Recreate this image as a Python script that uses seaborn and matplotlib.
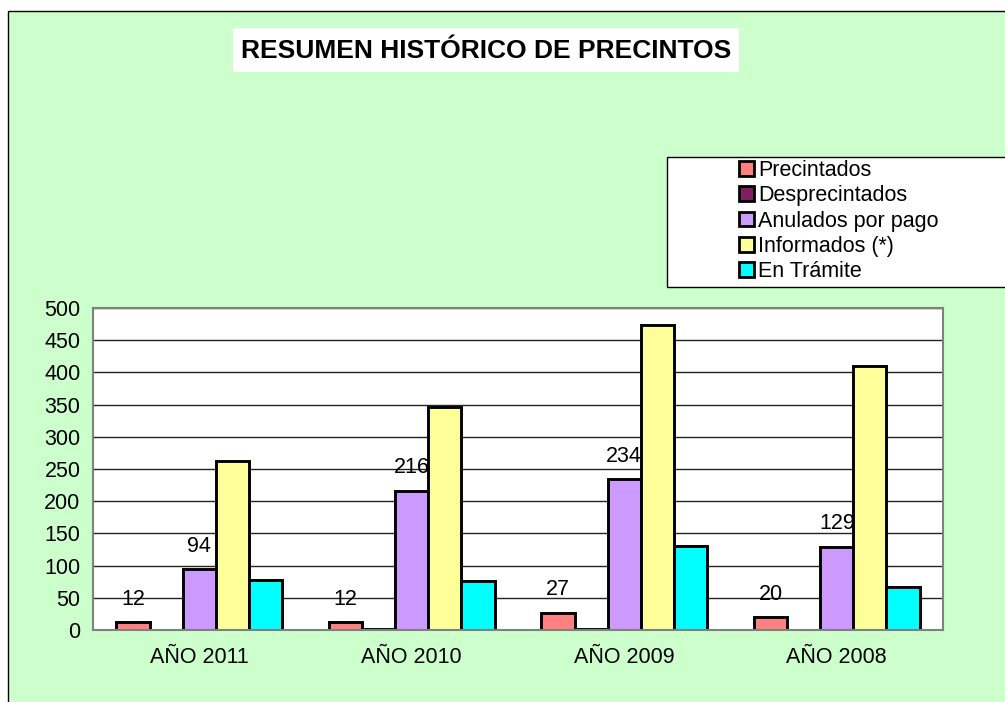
import pandas as pd
import matplotlib.pyplot as plt
from matplotlib.patches import Rectangle, Patch
import seaborn as sb

years = ['AÑO 2011', 'AÑO 2010', 'AÑO 2009', 'AÑO 2008']
series = ['Precintados', 'Desprecintados', 'Anulados por pago', 'Informados (*)', 'En Trámite']
precintados = [12, 12, 27, 20]
desprecintados = [0, 2, 2, 0]
anulados = [94, 216, 234, 129]
informados = [262, 346, 473, 410]
en_tramite = [78, 76, 131, 67]
colors = ['#FF8080', '#7F1F5F', '#CC99FF', '#FFFF99', '#00FFFF']
labeled = ['Precintados', 'Anulados por pago']

values = [precintados, desprecintados, anulados, informados, en_tramite]
df = pd.DataFrame([(y, s, v[i]) for s, v in zip(series, values) for i, y in enumerate(years)],
                  columns=['year', 'serie', 'value'])

sb.set_style('white')
plt.rcParams['font.family'] = ['Liberation Sans', 'DejaVu Sans']
plt.rcParams['text.color'] = 'black'
plt.rcParams['xtick.color'] = 'black'
plt.rcParams['ytick.color'] = 'black'

W, H = 1005, 702
fs = 15.5
fig = plt.figure(figsize=(W / 100, H / 100), dpi=100, facecolor='white')

# green chart frame
fig.patches.append(Rectangle((8 / W, -0.1), 1.2, 0.1 + (H - 11) / H,
                             transform=fig.transFigure, facecolor='#CCFFCC',
                             edgecolor='black', lw=1, zorder=-10))

# title box
fig.patches.append(Rectangle((233 / W, (H - 72) / H), 506 / W, 44 / H,
                             transform=fig.transFigure, facecolor='white',
                             edgecolor='none', zorder=-5))
fig.text(486 / W, (H - 51) / H, 'RESUMEN HISTÓRICO DE PRECINTOS', ha='center', va='center',
         fontsize=19, fontweight='bold')

ax = fig.add_axes([93 / W, (H - 630) / H, 850 / W, 322 / H])
ax.set_facecolor('white')
sb.barplot(data=df, x='year', y='value', hue='serie', hue_order=series, palette=colors,
           width=0.78, gap=0, edgecolor='black', linewidth=2.1, saturation=1,
           legend=False, ax=ax)

for cont, name in zip(ax.containers, series):
    if name not in labeled:
        continue
    for bar in cont:
        h = bar.get_height()
        ax.annotate(f'{h:.0f}', (bar.get_x() + bar.get_width() / 2, h),
                    xytext=(0, 9), textcoords='offset points', ha='center', va='bottom',
                    fontsize=fs, zorder=0.8)

ax.set_ylim(0, 500)
ax.set_xlim(-0.5, 3.5)
ax.set_yticks(range(0, 501, 50))
ax.set_axisbelow(True)
ax.yaxis.grid(True, color='#222222', lw=1.0)
ax.set_xlabel('')
ax.set_ylabel('')
ax.set_xticks([-0.5, 0.5, 1.5, 2.5, 3.5], minor=True)
ax.tick_params(axis='x', which='major', length=0, pad=12, labelsize=fs)
ax.tick_params(axis='x', which='minor', length=5, direction='out', color='#555555')
ax.tick_params(axis='y', length=6, direction='out', color='#555555', labelsize=fs, pad=3)
for s in ax.spines.values():
    s.set_visible(True)
    s.set_color('#808080')
    s.set_linewidth(1.5)

# legend box
fig.patches.append(Rectangle((667 / W, (H - 287) / H), 400 / W, 130 / H,
                             transform=fig.transFigure, facecolor='white',
                             edgecolor='black', lw=1, zorder=-4))
handles = [Patch(facecolor=c, edgecolor='black', lw=2) for c in colors]
fig.legend(handles, series, loc='upper left', bbox_to_anchor=(739 / W, (H - 160) / H),
           frameon=False, fontsize=fs, handlelength=0.68, handleheight=0.68,
           handletextpad=0.2, labelspacing=0.2, borderpad=0, borderaxespad=0)

fig.savefig('out.png', dpi=100, facecolor=fig.get_facecolor())
